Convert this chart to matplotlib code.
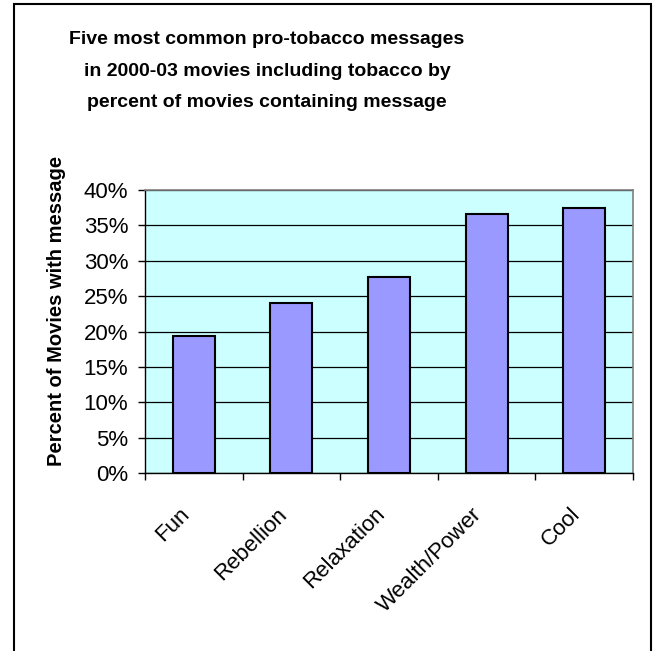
import matplotlib.pyplot as plt
import matplotlib.transforms as mtransforms
import numpy as np
from matplotlib.patches import Rectangle
from matplotlib.ticker import FuncFormatter, FixedLocator

categories = ['Fun', 'Rebellion', 'Relaxation', 'Wealth/Power', 'Cool']
percent_values = [19.3, 24.0, 27.7, 36.6, 37.5]
y_ticks = [0, 5, 10, 15, 20, 25, 30, 35, 40]

title = ('Five most common pro-tobacco messages\n'
         'in 2000-03 movies including tobacco by\n'
         'percent of movies containing message')
ylabel = 'Percent of Movies with message'

plt.rcParams['font.family'] = ['Liberation Sans', 'DejaVu Sans']

fig = plt.figure(figsize=(6.56, 6.51), dpi=100)
W, H = 656, 651

# outer chart border (open at bottom edge, like the clipped source)
fig.patches.append(Rectangle((14 / W, -0.01), (651 - 14) / W, (647) / H + 0.01,
                             transform=fig.transFigure, fill=False,
                             edgecolor='black', linewidth=1.5))

ax = fig.add_axes([145 / W, 1 - 473 / H, (633 - 145) / W, (473 - 190) / H])
ax.set_facecolor('#CCFFFF')

x = np.arange(len(categories))
ax.bar(x, percent_values, width=0.43, color='#9999FF',
       edgecolor='black', linewidth=1.5, zorder=3)

ax.set_xlim(-0.5, len(categories) - 0.5)
ax.set_ylim(0, 40)
ax.set_yticks(y_ticks)
ax.yaxis.set_major_formatter(FuncFormatter(lambda v, p: '%d%%' % v))
ax.yaxis.grid(True, color='black', linewidth=0.9, zorder=1)

# category labels centred on bars, tick marks on boundaries
ax.xaxis.set_major_locator(FixedLocator(np.arange(-0.5, len(categories), 1.0)))
ax.set_xticklabels([])
ax.set_xticks(x, minor=True)
ax.set_xticklabels(categories, minor=True, rotation=45, ha='right',
                   va='top', fontsize=16)
shift = mtransforms.ScaledTranslation(-4 / 100, 0, fig.dpi_scale_trans)
for lab in ax.get_xticklabels(minor=True):
    lab.set_transform(lab.get_transform() + shift)
ax.tick_params(axis='x', which='minor', length=0, pad=22)
ax.tick_params(axis='x', which='major', length=5, width=1, direction='out')
ax.tick_params(axis='y', length=5, width=1, labelsize=16, pad=7)

for side in ['top', 'right']:
    ax.spines[side].set_color('#808080')
    ax.spines[side].set_linewidth(1.2)
for side in ['left', 'bottom']:
    ax.spines[side].set_color('black')
    ax.spines[side].set_linewidth(1)

fig.text(267 / W, 1 - 71 / H, title, ha='center', va='center',
         fontsize=14, fontweight='bold', linespacing=2.1)
fig.text(57 / W, 1 - 311 / H, ylabel, ha='center', va='center',
         rotation=90, fontsize=14.5, fontweight='bold')

fig.savefig('out.png', dpi=100)
